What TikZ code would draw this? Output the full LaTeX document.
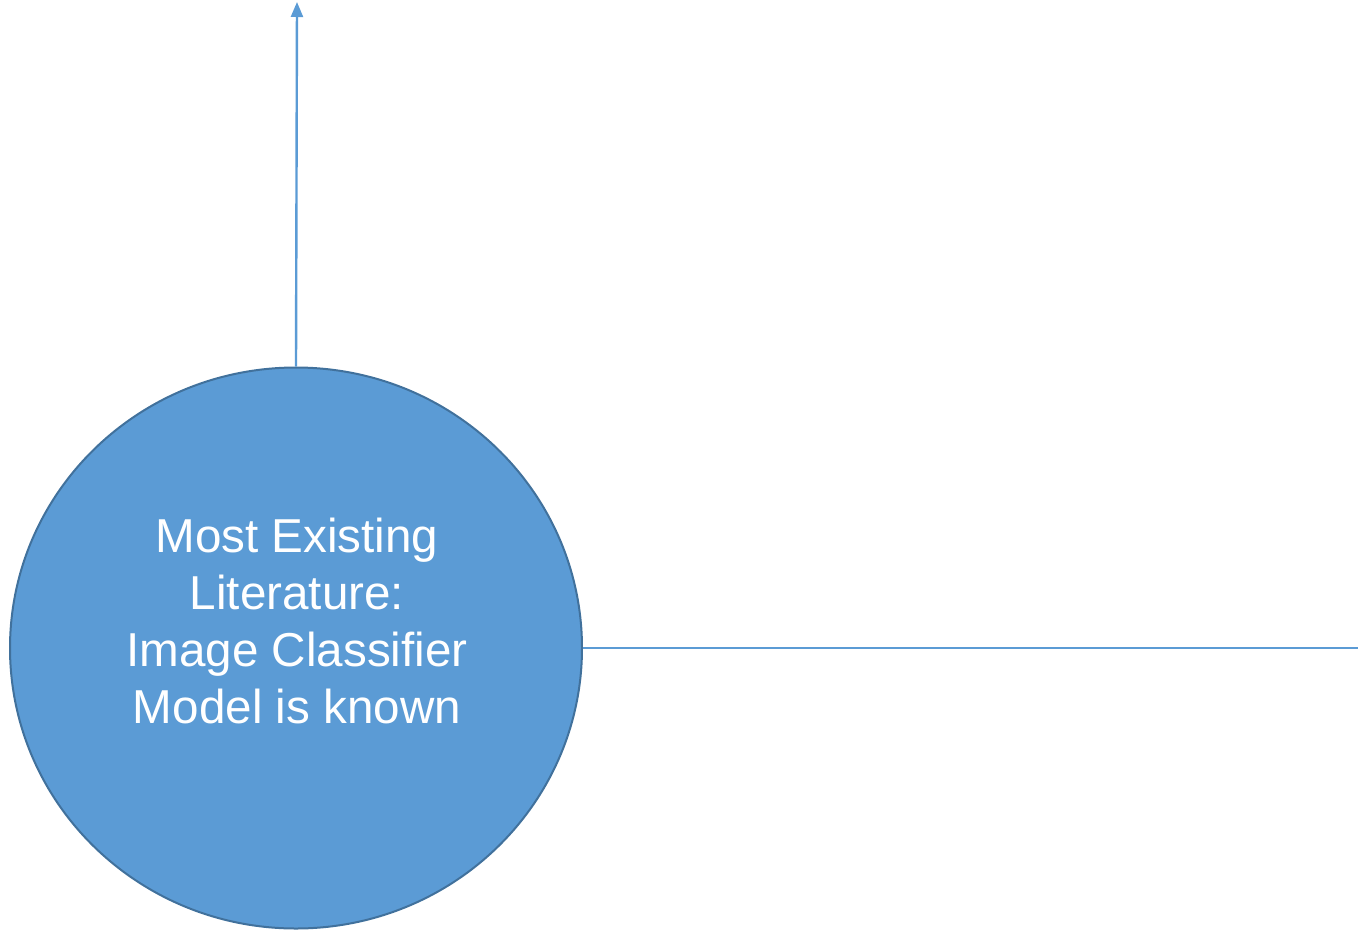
\documentclass[tikz,border=0pt]{standalone}
\usepackage{fontspec}
\setmainfont{Liberation Sans}
\usetikzlibrary{arrows.meta,shapes.geometric}
\definecolor{fillblue}{HTML}{5B9BD5}
\definecolor{edgeblue}{HTML}{41719C}
\tikzset{
  bubble/.style={ellipse, draw=edgeblue, line width=2pt, fill=fillblue, minimum width=572pt, minimum height=561pt, inner sep=0pt},
  label/.style={text=white, align=center, font=\fontsize{47.6}{57}\selectfont},
  conn/.style={draw=fillblue, line width=2.4pt},
}
\begin{document}
\begin{tikzpicture}[x=1pt,y=-1pt]
\useasboundingbox (0,0) rectangle (1358,930);
\node[bubble] (c) at (296,648) {};
\node[label] (t) at (297,621) {Most Existing\\Literature:\\Image Classifier\\Model is known};
\coordinate (top) at (297,2);
\coordinate (right) at (1358,648);
\draw[conn, -{Triangle[length=15pt,width=12pt]}] (c.north) -- (top);
\draw[conn] (c.east) -- (right);
\end{tikzpicture}
\end{document}
